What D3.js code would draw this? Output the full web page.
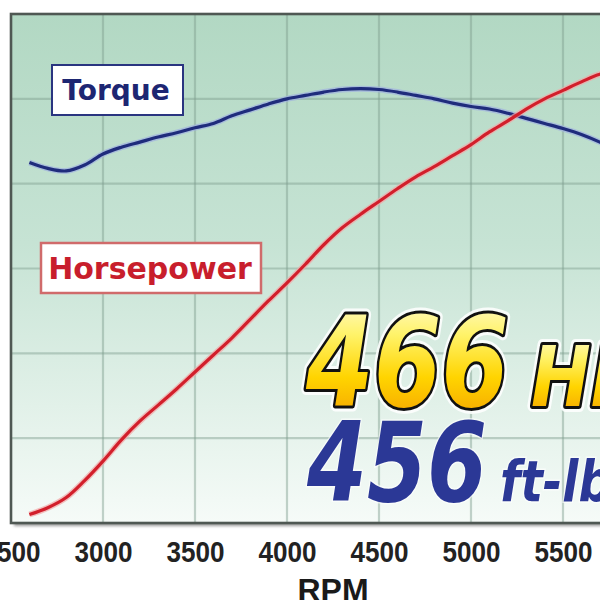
<!DOCTYPE html>
<html>
<head>
<meta charset="utf-8">
<script src="https://cdn.jsdelivr.net/npm/d3@7"></script>
<style>
  html, body { margin: 0; padding: 0; background: #ffffff; overflow: hidden; }
  svg { display: block; }
</style>
</head>
<body>
<div id="chart"></div>
<script>
// ---- data ----
const rpm = [2600, 2700, 2800, 2900, 3000, 3100, 3200, 3300, 3400, 3500, 3600, 3700, 3800, 3900,
             4000, 4100, 4200, 4300, 4400, 4500, 4600, 4700, 4800, 4900, 5000, 5100, 5200, 5300,
             5400, 5500, 5600, 5700, 5800];
const torque = [412.5, 409, 407.5, 411, 417.5, 421.5, 424.5, 427.5, 430, 433, 435.5, 440, 443.5, 447,
                450, 452, 454, 455.5, 456, 455.5, 454, 452, 450, 447.5, 445.5, 444, 441.5, 438.5,
                435.5, 432.5, 429, 424.5, 419];
const horsepower = [205, 209, 215, 225, 236.5, 249, 260, 269.5, 279, 289, 299, 309, 320, 331,
                    341.5, 352.5, 364, 374, 382, 389.5, 397, 404, 410, 416.5, 423, 430.5, 437, 444,
                    450, 455, 460, 464.5, 466];
const xTicks = [2500, 3000, 3500, 4000, 4500, 5000, 5500, 6000];
const yTicks = [200, 250, 300, 350, 400, 450, 500];
const xLabel = "RPM";
const seriesLabels = ["Torque", "Horsepower"];
const peakHP = "466", peakHPUnit = "HP";
const peakTQ = "456", peakTQUnit = "ft-lbs";

(function () {
// ---- layout ----
const W = 600, H = 600;
const svg = d3.select("#chart").append("svg").attr("width", W).attr("height", H);
const x = d3.scaleLinear().domain([2500, 6000]).range([11, 655]);
const y = d3.scaleLinear().domain([200, 500]).range([523, 14]);
const pLeft = x(2500), pRight = x(6000) + 20, pTop = y(500), pBottom = y(200);

const defs = svg.append("defs");
const bg = defs.append("linearGradient").attr("id", "bg").attr("x1", 0).attr("y1", 0).attr("x2", 0).attr("y2", 1);
bg.append("stop").attr("offset", "0%").attr("stop-color", "#b2d8c3");
bg.append("stop").attr("offset", "45%").attr("stop-color", "#c6e3d4");
bg.append("stop").attr("offset", "100%").attr("stop-color", "#f6fbf8");

const gold = defs.append("linearGradient").attr("id", "gold").attr("x1", 0).attr("y1", 0).attr("x2", 0).attr("y2", 1);
gold.append("stop").attr("offset", "0%").attr("stop-color", "#fffbe0");
gold.append("stop").attr("offset", "30%").attr("stop-color", "#fff36a");
gold.append("stop").attr("offset", "60%").attr("stop-color", "#ffd400");
gold.append("stop").attr("offset", "100%").attr("stop-color", "#f29400");

const blur = defs.append("filter").attr("id", "shadow").attr("x", "-5%").attr("y", "-5%").attr("width", "110%").attr("height", "110%");
blur.append("feGaussianBlur").attr("stdDeviation", 1.5);

// frame shadow
svg.append("rect").attr("x", pLeft + 3).attr("y", pTop + 3).attr("width", pRight - pLeft).attr("height", pBottom - pTop)
  .attr("fill", "#9a9a9a").attr("filter", "url(#shadow)");
// plot background
svg.append("rect").attr("x", pLeft).attr("y", pTop).attr("width", pRight - pLeft).attr("height", pBottom - pTop)
  .attr("fill", "url(#bg)");

// grid
const grid = svg.append("g");
grid.selectAll("line.v").data(xTicks.slice(1)).join("line")
  .attr("x1", d => x(d)).attr("x2", d => x(d)).attr("y1", pTop).attr("y2", pBottom)
  .attr("stroke", "#7f9e8e").attr("stroke-opacity", 0.45).attr("stroke-width", 2.2);
grid.selectAll("line.h").data(yTicks.slice(1, -1)).join("line")
  .attr("x1", pLeft).attr("x2", pRight).attr("y1", d => y(d)).attr("y2", d => y(d))
  .attr("stroke", "#7f9e8e").attr("stroke-opacity", 0.45).attr("stroke-width", 2.2);

// frame
svg.append("rect").attr("x", pLeft).attr("y", pTop).attr("width", pRight - pLeft).attr("height", pBottom - pTop)
  .attr("fill", "none").attr("stroke", "#4f5853").attr("stroke-width", 2.6);

// x axis tick labels via d3 axis
const xAxis = d3.axisBottom(x).tickValues(xTicks).tickFormat(d3.format("d")).tickSize(0).tickPadding(0);
const ax = svg.append("g").attr("transform", `translate(0,${pBottom})`).call(xAxis);
ax.select(".domain").remove();
ax.selectAll("text")
  .attr("y", 39).attr("dy", 0)
  .attr("font-family", "'Liberation Sans', Arial, sans-serif")
  .attr("font-weight", "bold").attr("font-size", 30)
  .attr("fill", "#222")
  .attr("textLength", 58).attr("lengthAdjust", "spacingAndGlyphs");

svg.append("text").attr("x", 333).attr("y", 601).attr("text-anchor", "middle")
  .attr("font-family", "'Liberation Sans', Arial, sans-serif").attr("font-weight", "bold")
  .attr("font-size", 32).attr("fill", "#1a1a1a").text(xLabel);

// curves
const pts = (vals) => rpm.map((r, i) => [r, vals[i]]);
const line = d3.line().x(d => x(d[0])).y(d => y(d[1])).curve(d3.curveCatmullRom.alpha(0.5));
const plot = svg.append("g");
plot.append("path").attr("d", line(pts(torque))).attr("fill", "none")
  .attr("stroke", "#9fb0e0").attr("stroke-opacity", 0.7).attr("stroke-width", 6);
plot.append("path").attr("d", line(pts(torque))).attr("fill", "none")
  .attr("stroke", "#1f2c7c").attr("stroke-width", 3.2);
plot.append("path").attr("d", line(pts(horsepower))).attr("fill", "none")
  .attr("stroke", "#f2a6a6").attr("stroke-opacity", 0.7).attr("stroke-width", 6);
plot.append("path").attr("d", line(pts(horsepower))).attr("fill", "none")
  .attr("stroke", "#d21f2b").attr("stroke-width", 3.2);

// series labels
const tq = svg.append("g");
tq.append("rect").attr("x", 52).attr("y", 65).attr("width", 131).attr("height", 50)
  .attr("fill", "#ffffff").attr("stroke", "#2a3580").attr("stroke-width", 2);
tq.append("text").attr("x", 116).attr("y", 100).attr("text-anchor", "middle")
  .attr("font-family", "'DejaVu Sans', Verdana, sans-serif").attr("font-weight", "bold")
  .attr("font-size", 28).attr("fill", "#1d2672").text(seriesLabels[0]);

const hp = svg.append("g");
hp.append("rect").attr("x", 41).attr("y", 243).attr("width", 220).attr("height", 50)
  .attr("fill", "#ffffff").attr("stroke", "#d06b6b").attr("stroke-width", 2.5);
hp.append("text").attr("x", 150).attr("y", 279).attr("text-anchor", "middle")
  .attr("font-family", "'DejaVu Sans', Verdana, sans-serif").attr("font-weight", "bold")
  .attr("font-size", 30).attr("fill", "#c81e2c").text(seriesLabels[1]);

// peak callouts
const big = svg.append("g").attr("font-family", "'DejaVu Sans', sans-serif")
  .attr("font-weight", "bold").attr("font-style", "italic");
function outlined(txt, px, py, fs, len) {
  big.append("text").attr("x", px).attr("y", py).attr("font-size", fs)
    .attr("textLength", len).attr("lengthAdjust", "spacingAndGlyphs")
    .attr("fill", "#fff").attr("stroke", "#ffffff").attr("stroke-width", 12)
    .attr("stroke-linejoin", "round").attr("stroke-opacity", 0.85).text(txt);
  big.append("text").attr("x", px).attr("y", py).attr("font-size", fs)
    .attr("textLength", len).attr("lengthAdjust", "spacingAndGlyphs")
    .attr("fill", "url(#gold)").attr("stroke", "#111").attr("stroke-width", 6)
    .attr("stroke-linejoin", "round").attr("paint-order", "stroke").text(txt);
}
outlined(peakHP, 306, 406, 124, 203);
outlined(peakHPUnit, 531, 406, 84, 112);

big.append("text").attr("x", 307).attr("y", 501).attr("font-size", 110)
  .attr("textLength", 180).attr("lengthAdjust", "spacingAndGlyphs")
  .attr("fill", "#2b3896").attr("stroke", "#ffffff").attr("stroke-width", 3)
  .attr("stroke-opacity", 0.6).attr("paint-order", "stroke").text(peakTQ);
big.append("text").attr("x", 500).attr("y", 501).attr("font-size", 57)
  .attr("textLength", 140).attr("lengthAdjust", "spacingAndGlyphs")
  .attr("fill", "#2b3896").attr("stroke", "#ffffff").attr("stroke-width", 3)
  .attr("stroke-opacity", 0.6).attr("paint-order", "stroke").text(peakTQUnit);
})();
</script>
</body>
</html>
